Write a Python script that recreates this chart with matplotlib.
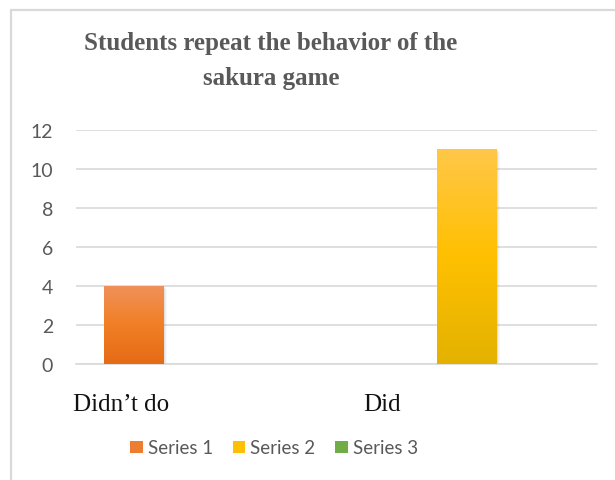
import matplotlib.pyplot as plt
import numpy as np
from matplotlib.patches import Rectangle
from matplotlib.colors import LinearSegmentedColormap
from matplotlib.transforms import ScaledTranslation

title = 'Students repeat the behavior of the\nsakura game'
categories = ["Didn\u2019t do", 'Did']
series_names = ['Series 1', 'Series 2', 'Series 3']
series1 = [4, 0]
series2 = [0, 11]
series3 = [0, 0]

colors = ['#ED7D31', '#FFC000', '#70AD47']
grads = [('#F1915A', '#F07F26', '#E56B15'),
         ('#FFC749', '#FFC000', '#E3B200'),
         ('#8CC168', '#70AD47', '#5E9A38')]

W, H = 615, 481
fig = plt.figure(figsize=(W / 100, H / 100), dpi=100)

# chart border (only top and left visible in the crop)
fig.patches.append(Rectangle((11 / W, -0.1), 1.2, (H - 10.5) / H + 0.1, transform=fig.transFigure,
                             fill=False, edgecolor='#D9D9D9', linewidth=1.6))

ax = fig.add_axes([76 / W, (H - 365) / H, (597 - 76) / W, (365 - 130.7) / H])

x = np.arange(len(categories))
width = 0.23
offset = 0.278
all_series = [series1, series2, series3]
for i, vals in enumerate(all_series):
    bars = ax.bar(x + (i - 1) * offset, vals, width, color=colors[i], label=series_names[i],
                  linewidth=0, zorder=3)
    cmap = LinearSegmentedColormap.from_list('g%d' % i, list(grads[i]))
    for b in bars:
        if b.get_height() == 0:
            continue
        x0, y0 = b.get_x(), b.get_y()
        w, h = b.get_width(), b.get_height()
        # soft shadow
        for k, a in enumerate([0.12, 0.08, 0.05]):
            sh = Rectangle((x0, y0), w, h, facecolor='#808080', alpha=a, linewidth=0, zorder=2,
                           transform=ax.transData + ScaledTranslation((k + 1) * 0.012, -(k + 1) * 0.01,
                                                                      fig.dpi_scale_trans))
            ax.add_patch(sh)
        grad = np.linspace(0, 1, 256).reshape(-1, 1)
        im = ax.imshow(grad, cmap=cmap, aspect='auto', extent=(x0, x0 + w, y0, y0 + h),
                       zorder=4, interpolation='bicubic')
        im.set_clip_path(b)

ax.set_xlim(-0.5, 1.5)
ax.set_ylim(0, 12)
ax.set_yticks(np.arange(0, 13, 2))
ax.yaxis.grid(True, color='#D9D9D9', linewidth=1.2, zorder=0)
ax.set_axisbelow(True)
for s in ['top', 'right', 'left']:
    ax.spines[s].set_visible(False)
ax.spines['bottom'].set_color('#D9D9D9')
ax.spines['bottom'].set_linewidth(1.2)
ax.tick_params(axis='both', length=0)
ax.tick_params(axis='y', pad=16.5, labelsize=14, labelcolor='#595959')
for lab in ax.get_yticklabels():
    lab.set_fontfamily('Lato')

ax.set_xticks(x)
ax.set_xticklabels(categories, fontfamily='Liberation Serif', fontsize=18, color='#111111')
ax.tick_params(axis='x', pad=21)
for lab in ax.get_xticklabels():
    lab.set_transform(lab.get_transform() + ScaledTranslation(-0.85, 0, fig.dpi_scale_trans))

fig.text(271 / W, (H - 85) / H, title, ha='center', va='baseline', fontfamily='Liberation Serif',
         fontweight='bold', fontsize=18, color='#595959', linespacing=1.65)

leg = fig.legend(loc='center', bbox_to_anchor=(274 / W, (H - 449) / H), ncol=3, frameon=False,
                 prop={'family': 'Lato', 'size': 13.5}, handlelength=0.65, handleheight=0.65,
                 handletextpad=0.27, columnspacing=1.07)
for t in leg.get_texts():
    t.set_color('#595959')

fig.savefig('out.png', dpi=100)
